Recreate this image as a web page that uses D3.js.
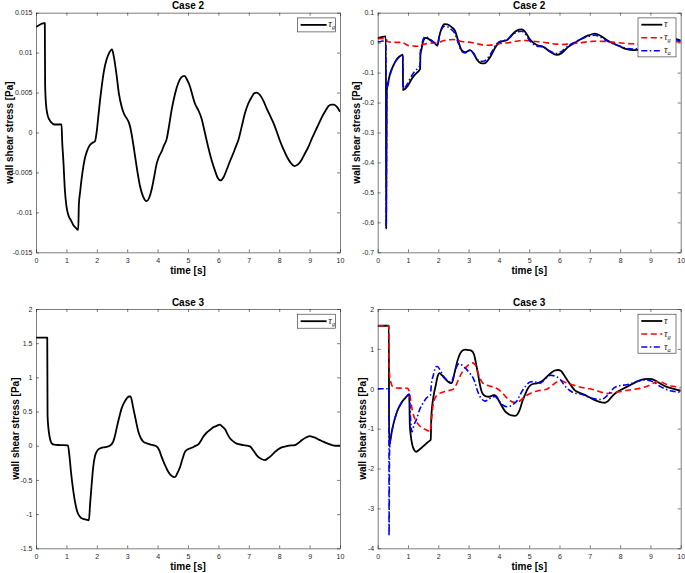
<!DOCTYPE html>
<html>
<head>
<meta charset="utf-8">
<script src="https://cdn.jsdelivr.net/npm/d3@7"></script>
<style>
  body { margin: 0; background: #fff; }
  svg { display: block; font-family: "Liberation Sans", Arial, Helvetica, sans-serif; }
  .tick text { font-size: 7px; fill: #262626; }
</style>
</head>
<body>
<div id="vis"></div>
<script>
// ---- data: [time (s), wall shear stress (Pa)] ----
const timeTicks = [0, 1, 2, 3, 4, 5, 6, 7, 8, 9, 10];
const case2Ticks = [-0.015, -0.01, -0.005, 0, 0.005, 0.01, 0.015];
const case2AllTicks = [-0.7, -0.6, -0.5, -0.4, -0.3, -0.2, -0.1, 0, 0.1];
const case3Ticks = [-1.5, -1, -0.5, 0, 0.5, 1, 1.5, 2];
const case3AllTicks = [-4, -3, -2, -1, 0, 1, 2];

const case2TauG = [
  [0,0.0132],[0.27,0.0137],[0.29,0.0137],[0.3,0.006],[0.33,0.0035],[0.38,0.0022],[0.44,0.0016],
  [0.52,0.0012],[0.6,0.001],[0.84,0.001],[0.86,-0.001],[0.9,-0.0035],[0.95,-0.0072],[1.0,-0.0092],
  [1.06,-0.0103],[1.15,-0.011],[1.23,-0.0116],[1.3,-0.0119],[1.39,-0.0122],[1.41,-0.009],[1.45,-0.0075],
  [1.5,-0.0058],[1.56,-0.0042],[1.61,-0.0032],[1.68,-0.0023],[1.75,-0.0017],[1.85,-0.0013],[1.94,-0.0011],
  [2.0,0.0002],[2.05,0.002],[2.1,0.0038],[2.17,0.006],[2.24,0.0078],[2.32,0.0091],[2.4,0.0099],
  [2.5,0.0104],[2.56,0.0095],[2.65,0.0072],[2.73,0.0048],[2.82,0.0032],[2.9,0.0023],[2.98,0.0018],
  [3.05,0.0013],[3.11,0.0005],[3.18,-0.001],[3.26,-0.003],[3.34,-0.005],[3.42,-0.0067],[3.52,-0.008],
  [3.64,-0.0086],[3.72,-0.0082],[3.8,-0.0072],[3.88,-0.0057],[3.97,-0.0039],[4.05,-0.003],[4.13,-0.0024],
  [4.2,-0.0017],[4.3,-0.0008],[4.38,0.0009],[4.46,0.0028],[4.57,0.0048],[4.68,0.0062],[4.78,0.0069],
  [4.88,0.0071],[4.97,0.0066],[5.07,0.0057],[5.15,0.0046],[5.23,0.0036],[5.34,0.0028],[5.45,0.0017],
  [5.56,-0.0001],[5.67,-0.0019],[5.78,-0.0035],[5.89,-0.0048],[5.98,-0.0057],[6.07,-0.006],[6.17,-0.0056],
  [6.27,-0.0047],[6.38,-0.0036],[6.49,-0.0026],[6.58,-0.0017],[6.66,-0.0009],[6.77,0.0008],[6.88,0.0025],
  [6.98,0.0036],[7.09,0.0044],[7.18,0.0049],[7.26,0.005],[7.34,0.0048],[7.42,0.0044],[7.5,0.0038],
  [7.59,0.003],[7.7,0.0021],[7.81,0.0012],[7.92,0.0001],[8.03,-0.0011],[8.14,-0.0021],[8.25,-0.003],
  [8.38,-0.0038],[8.5,-0.0042],[8.62,-0.004],[8.74,-0.0034],[8.85,-0.0026],[8.96,-0.0018],[9.07,-0.0008],
  [9.18,0.0001],[9.29,0.001],[9.4,0.0019],[9.52,0.0027],[9.62,0.0033],[9.72,0.0035],[9.8,0.0035],
  [9.9,0.0032],[10,0.0026]
];

const case2Tau = [
  [0,0.016],[0.1,0.018],[0.27,0.021],[0.28,-0.62],[0.3,-0.158],[0.35,-0.13],[0.42,-0.1],[0.5,-0.08],
  [0.6,-0.06],[0.7,-0.048],[0.83,-0.04],[0.835,-0.158],[0.9,-0.155],[1.0,-0.143],[1.1,-0.125],[1.2,-0.11],
  [1.3,-0.1],[1.4,-0.088],[1.41,-0.04],[1.45,-0.02],[1.5,0.005],[1.58,0.016],[1.7,0.011],[1.8,0.004],
  [1.9,-0.004],[1.97,-0.01],[2.03,0.02],[2.11,0.048],[2.2,0.062],[2.3,0.061],[2.44,0.052],[2.55,0.04],
  [2.66,0.005],[2.77,-0.025],[2.88,-0.032],[3.05,-0.025],[3.16,-0.036],[3.27,-0.056],[3.4,-0.068],
  [3.52,-0.069],[3.7,-0.05],[3.93,-0.008],[4.09,0.004],[4.26,0.008],[4.42,0.025],[4.59,0.04],[4.75,0.044],
  [4.86,0.037],[5.03,0.01],[5.25,-0.008],[5.47,-0.014],[5.69,-0.03],[5.91,-0.041],[6.07,-0.035],
  [6.29,-0.014],[6.51,0],[6.73,0.013],[6.95,0.024],[7.17,0.03],[7.34,0.024],[7.56,0.009],[7.78,-0.003],
  [8.0,-0.013],[8.22,-0.022],[8.44,-0.025],[8.7,-0.022],[9.0,-0.012],[9.3,-0.002],[9.6,0.008],
  [9.85,0.012],[10,0.007]
];

const case2TauA = [
  [0,0.003],[0.1,0.004],[0.27,0.007],[0.28,-0.62],[0.3,-0.165],[0.35,-0.135],[0.42,-0.103],[0.5,-0.082],
  [0.6,-0.061],[0.7,-0.049],[0.83,-0.041],[0.835,-0.158],[0.9,-0.15],[1.0,-0.134],[1.1,-0.114],[1.2,-0.099],
  [1.3,-0.088],[1.4,-0.076],[1.41,-0.03],[1.45,-0.012],[1.5,0.011],[1.58,0.02],[1.7,0.013],[1.8,0.006],
  [1.9,-0.003],[1.97,-0.009],[2.03,0.019],[2.11,0.045],[2.2,0.055],[2.3,0.053],[2.44,0.043],[2.55,0.03],
  [2.66,-0.002],[2.77,-0.029],[2.88,-0.034],[3.05,-0.026],[3.16,-0.035],[3.27,-0.053],[3.4,-0.062],
  [3.52,-0.061],[3.7,-0.042],[3.93,-0.004],[4.09,0.006],[4.26,0.009],[4.42,0.023],[4.59,0.035],[4.75,0.038],
  [4.86,0.03],[5.03,0.005],[5.25,-0.011],[5.47,-0.015],[5.69,-0.029],[5.91,-0.036],[6.07,-0.029],
  [6.29,-0.01],[6.51,0.002],[6.73,0.013],[6.95,0.021],[7.17,0.025],[7.34,0.019],[7.56,0.006],[7.78,-0.004],
  [8.0,-0.012],[8.22,-0.019],[8.44,-0.021],[8.7,-0.018],[9.0,-0.009],[9.3,-0.002],[9.6,0.005],
  [9.85,0.009],[10,0.004]
];

const case3TauG = [
  [0,1.58],[0.37,1.58],[0.38,0.45],[0.41,0.25],[0.44,0.15],[0.48,0.07],[0.52,0.035],[0.6,0.015],[0.8,0.01],
  [1.05,0.005],[1.1,-0.15],[1.15,-0.38],[1.23,-0.67],[1.3,-0.86],[1.37,-0.98],[1.45,-1.04],[1.55,-1.07],
  [1.65,-1.08],[1.74,-1.09],[1.78,-0.85],[1.83,-0.57],[1.88,-0.32],[1.94,-0.15],[2.02,-0.07],[2.1,-0.04],
  [2.27,-0.02],[2.43,0.0],[2.54,0.06],[2.6,0.15],[2.65,0.25],[2.74,0.42],[2.82,0.55],[2.9,0.63],[2.98,0.69],
  [3.06,0.72],[3.11,0.72],[3.2,0.55],[3.28,0.38],[3.37,0.2],[3.45,0.11],[3.53,0.06],[3.65,0.035],
  [3.75,0.02],[3.88,0.005],[3.97,-0.01],[4.05,-0.06],[4.13,-0.16],[4.24,-0.28],[4.35,-0.38],[4.46,-0.44],
  [4.57,-0.46],[4.65,-0.4],[4.74,-0.31],[4.82,-0.19],[4.9,-0.09],[5.0,-0.05],[5.12,-0.03],[5.23,-0.005],
  [5.34,0.02],[5.42,0.07],[5.5,0.13],[5.61,0.19],[5.72,0.23],[5.83,0.27],[5.94,0.29],[6.05,0.31],
  [6.13,0.28],[6.22,0.24],[6.3,0.17],[6.38,0.11],[6.5,0.06],[6.6,0.03],[6.82,0.01],[6.95,0.0],[7.04,-0.01],
  [7.15,-0.07],[7.26,-0.14],[7.4,-0.19],[7.53,-0.21],[7.64,-0.18],[7.75,-0.14],[7.86,-0.09],[7.97,-0.05],
  [8.1,-0.02],[8.25,-0.005],[8.4,0.005],[8.52,0.01],[8.63,0.04],[8.74,0.08],[8.88,0.12],[9.01,0.14],
  [9.1,0.13],[9.18,0.12],[9.3,0.09],[9.45,0.06],[9.6,0.03],[9.73,0.01],[9.85,0.0],[10,0.0]
];

const case3Tau = [
  [0,1.58],[0.37,1.58],[0.375,-1.45],[0.41,-1.33],[0.46,-1.1],[0.52,-0.88],[0.57,-0.74],[0.65,-0.55],
  [0.74,-0.41],[0.82,-0.31],[0.9,-0.24],[0.97,-0.18],[1.04,-0.14],[1.06,-0.9],[1.09,-1.16],[1.14,-1.4],
  [1.2,-1.53],[1.27,-1.58],[1.35,-1.54],[1.45,-1.48],[1.55,-1.41],[1.65,-1.34],[1.75,-1.28],[1.77,-0.7],
  [1.84,-0.2],[1.92,0.1],[1.98,0.32],[2.04,0.39],[2.12,0.34],[2.2,0.27],[2.3,0.19],[2.4,0.14],[2.45,0.15],
  [2.55,0.45],[2.64,0.72],[2.72,0.88],[2.8,0.96],[2.9,0.98],[3.0,0.97],[3.1,0.95],[3.18,0.86],[3.24,0.65],
  [3.3,0.42],[3.38,0.08],[3.46,-0.12],[3.57,-0.19],[3.67,-0.2],[3.78,-0.17],[3.85,-0.16],[3.93,-0.2],
  [4.0,-0.3],[4.1,-0.44],[4.2,-0.56],[4.31,-0.63],[4.42,-0.67],[4.53,-0.68],[4.62,-0.63],[4.7,-0.5],
  [4.78,-0.3],[4.86,-0.15],[4.95,0.0],[5.03,0.08],[5.12,0.12],[5.2,0.13],[5.3,0.15],[5.4,0.18],[5.5,0.24],
  [5.62,0.33],[5.74,0.41],[5.86,0.46],[5.96,0.47],[6.04,0.45],[6.12,0.38],[6.2,0.28],[6.29,0.18],
  [6.4,0.06],[6.51,-0.04],[6.62,-0.09],[6.73,-0.12],[6.85,-0.16],[6.95,-0.2],[7.1,-0.26],[7.25,-0.31],
  [7.38,-0.34],[7.5,-0.35],[7.6,-0.31],[7.7,-0.22],[7.8,-0.14],[7.9,-0.08],[8.05,-0.02],[8.2,0.04],
  [8.35,0.1],[8.5,0.16],[8.65,0.21],[8.8,0.24],[8.95,0.25],[9.05,0.24],[9.2,0.19],[9.35,0.12],[9.5,0.06],
  [9.65,0.02],[9.8,-0.01],[10,-0.06]
];

const case3TauGAll = [
  [0,1.58],[0.37,1.58],[0.375,0.6],[0.4,0.3],[0.45,0.12],[0.5,0.05],[0.6,0.02],[0.99,0.01],[1.05,-0.1],
  [1.1,-0.35],[1.15,-0.57],[1.23,-0.76],[1.32,-0.87],[1.4,-0.94],[1.49,-0.99],[1.6,-1.03],[1.69,-1.06],
  [1.74,-1.07],[1.78,-0.75],[1.82,-0.45],[1.9,-0.22],[2.0,-0.14],[2.09,-0.1],[2.25,-0.06],[2.48,-0.02],
  [2.56,0.05],[2.65,0.2],[2.72,0.32],[2.8,0.43],[2.9,0.53],[3.0,0.6],[3.13,0.65],[3.22,0.6],[3.3,0.42],
  [3.38,0.25],[3.46,0.15],[3.55,0.1],[3.65,0.08],[3.74,0.06],[3.85,0.04],[3.95,0.0],[4.04,-0.05],
  [4.15,-0.13],[4.25,-0.22],[4.37,-0.3],[4.5,-0.34],[4.6,-0.33],[4.7,-0.3],[4.82,-0.22],[4.95,-0.15],
  [5.05,-0.11],[5.15,-0.08],[5.3,-0.05],[5.45,-0.03],[5.58,-0.01],[5.7,0.05],[5.82,0.12],[5.94,0.18],
  [6.05,0.2],[6.2,0.16],[6.35,0.12],[6.5,0.08],[6.7,0.04],[6.85,0.02],[7.0,0.0],[7.2,-0.04],[7.4,-0.09],
  [7.61,-0.12],[7.75,-0.1],[7.9,-0.08],[8.1,-0.06],[8.3,-0.03],[8.5,-0.01],[8.66,0.01],[8.8,0.04],
  [8.95,0.08],[9.1,0.14],[9.21,0.18],[9.35,0.17],[9.5,0.12],[9.7,0.07],[9.85,0.05],[10,0.03]
];

const case3TauA = [
  [0,0],[0.37,0],[0.375,-3.68],[0.39,-1.6],[0.41,-1.33],[0.46,-1.1],[0.52,-0.88],[0.57,-0.74],[0.65,-0.55],
  [0.74,-0.41],[0.82,-0.31],[0.9,-0.24],[0.97,-0.18],[1.04,-0.14],[1.08,-0.7],[1.13,-1.08],[1.2,-0.9],
  [1.29,-0.75],[1.37,-0.55],[1.45,-0.42],[1.53,-0.32],[1.6,-0.24],[1.7,-0.18],[1.74,-0.16],[1.77,0.1],
  [1.84,0.35],[1.92,0.55],[1.97,0.56],[2.06,0.47],[2.14,0.36],[2.22,0.27],[2.32,0.2],[2.42,0.17],[2.5,0.3],
  [2.58,0.5],[2.66,0.62],[2.72,0.63],[2.83,0.55],[2.92,0.5],[3.0,0.42],[3.13,0.3],[3.2,0.18],[3.27,0.0],
  [3.35,-0.16],[3.45,-0.27],[3.54,-0.31],[3.63,-0.28],[3.71,-0.24],[3.8,-0.2],[3.88,-0.2],[3.98,-0.28],
  [4.07,-0.37],[4.15,-0.42],[4.26,-0.45],[4.38,-0.43],[4.5,-0.37],[4.6,-0.3],[4.7,-0.15],[4.8,-0.02],
  [4.9,0.08],[5.03,0.17],[5.14,0.18],[5.25,0.16],[5.36,0.14],[5.47,0.2],[5.58,0.28],[5.7,0.34],[5.8,0.33],
  [5.9,0.3],[6.02,0.24],[6.13,0.12],[6.24,0.02],[6.35,-0.05],[6.46,-0.1],[6.58,-0.12],[6.7,-0.13],
  [6.85,-0.17],[7.0,-0.22],[7.15,-0.25],[7.3,-0.27],[7.4,-0.27],[7.5,-0.22],[7.6,-0.15],[7.7,-0.06],
  [7.8,0.02],[7.9,0.06],[8.0,0.08],[8.22,0.1],[8.4,0.14],[8.55,0.18],[8.7,0.21],[8.85,0.22],[9.0,0.2],
  [9.15,0.15],[9.32,0.06],[9.5,-0.01],[9.65,-0.05],[9.8,-0.07],[10,-0.09]
];

// ---- styles for the three quantities ----
const TAU = { name: "", color: "#000", width: 1.8, dash: null };
const TAU_G = { name: "g", color: "#ff0000", width: 1.6, dash: "6,3.5" };
const TAU_A = { name: "a", color: "#0000ff", width: 1.6, dash: "6,2.5,1.5,2.5" };

const W = 685, H = 573;
const svg = d3.select("#vis").append("svg").attr("width", W).attr("height", H);

const panels = [
  { id: "p1", title: "Case 2", box: [36, 340, 12.7, 252.3], yDomain: [-0.015, 0.015], yTicks: case2Ticks,
    yLabelOff: 23.5, legendLine: 26,
    series: [{ data: case2TauG, style: TAU, legendStyle: { ...TAU, name: "g" } }] },
  { id: "p2", title: "Case 2", box: [377.7, 680.7, 12.7, 252.3], yDomain: [-0.7, 0.1], yTicks: case2AllTicks,
    yLabelOff: 17.7, legendLine: 21,
    series: [{ data: case2Tau, style: TAU }, { data: case2TauG, style: TAU_G }, { data: case2TauA, style: TAU_A }] },
  { id: "p3", title: "Case 3", box: [36, 340, 309, 548.3], yDomain: [-1.5, 2], yTicks: case3Ticks,
    yLabelOff: 17, legendLine: 26,
    series: [{ data: case3TauG, style: TAU, legendStyle: { ...TAU, name: "g" } }] },
  { id: "p4", title: "Case 3", box: [377.7, 680.7, 309, 548.3], yDomain: [-4, 2], yTicks: case3AllTicks,
    yLabelOff: 11.7, legendLine: 21,
    series: [{ data: case3Tau, style: TAU }, { data: case3TauGAll, style: TAU_G }, { data: case3TauA, style: TAU_A }] }
];

const fmt = v => String(+v.toFixed(6));

panels.forEach(p => {
  const [l, r, t, b] = p.box;
  const x = d3.scaleLinear().domain([0, 10]).range([l, r]);
  const y = d3.scaleLinear().domain(p.yDomain).range([b, t]);
  const g = svg.append("g");

  g.append("clipPath").attr("id", "clip-" + p.id)
    .append("rect").attr("x", l).attr("y", t).attr("width", r - l).attr("height", b - t);

  // curves
  const line = d3.line().x(d => x(d[0])).y(d => y(d[1])).curve(d3.curveMonotoneX);
  p.series.forEach(s => {
    g.append("path")
      .datum(s.data)
      .attr("clip-path", "url(#clip-" + p.id + ")")
      .attr("fill", "none")
      .attr("stroke", s.style.color)
      .attr("stroke-width", s.style.width)
      .attr("stroke-dasharray", s.style.dash)
      .attr("stroke-linejoin", "round")
      .attr("d", line);
  });

  // axes, MATLAB style: ticks inside on all four sides
  const axStyle = sel => {
    sel.selectAll(".domain").attr("stroke", "#262626").attr("stroke-width", 0.6);
    sel.selectAll(".tick line").attr("stroke", "#262626").attr("stroke-width", 0.6);
  };
  g.append("g").attr("transform", `translate(0,${b})`)
    .call(d3.axisBottom(x).tickValues(timeTicks).tickFormat(fmt).tickSize(-3).tickSizeOuter(0).tickPadding(6))
    .call(axStyle);
  g.append("g").attr("transform", `translate(0,${t})`)
    .call(d3.axisTop(x).tickValues(timeTicks).tickFormat("").tickSize(-3).tickSizeOuter(0))
    .call(axStyle);
  g.append("g").attr("transform", `translate(${l},0)`)
    .call(d3.axisLeft(y).tickValues(p.yTicks).tickFormat(fmt).tickSize(-3).tickSizeOuter(0).tickPadding(3.5))
    .call(axStyle);
  g.append("g").attr("transform", `translate(${r},0)`)
    .call(d3.axisRight(y).tickValues(p.yTicks).tickFormat("").tickSize(-3).tickSizeOuter(0))
    .call(axStyle);
  g.selectAll(".tick text").attr("font-family", null).attr("font-size", null);

  // title and labels
  g.append("text").attr("x", (l + r) / 2).attr("y", t - 3.5).attr("text-anchor", "middle")
    .attr("font-size", 10).attr("font-weight", "bold").attr("fill", "#000").text(p.title);
  g.append("text").attr("x", (l + r) / 2).attr("y", b + 22).attr("text-anchor", "middle")
    .attr("font-size", 10).attr("font-weight", "bold").attr("fill", "#000").text("time [s]");
  g.append("text")
    .attr("transform", `translate(${l - p.yLabelOff},${(t + b) / 2}) rotate(-90)`)
    .attr("text-anchor", "middle")
    .attr("font-size", 10).attr("font-weight", "bold").attr("fill", "#000")
    .text("wall shear stress [Pa]");

  // legend
  const items = p.series.map(s => s.legendStyle || s.style);
  const bw = 38, bh = items.length === 1 ? 14 : 39;
  const bx = r - 42.7, by = t + 5.2;
  const lg = g.append("g");
  lg.append("rect").attr("x", bx).attr("y", by).attr("width", bw).attr("height", bh)
    .attr("fill", "#fff").attr("stroke", "#262626").attr("stroke-width", 0.6);
  items.forEach((it, i) => {
    const cy = items.length === 1 ? by + bh / 2 : by + 6.8 + i * 13;
    lg.append("line").attr("x1", bx + 3.3).attr("x2", bx + 3.3 + p.legendLine)
      .attr("y1", cy).attr("y2", cy)
      .attr("stroke", it.color).attr("stroke-width", it.width).attr("stroke-dasharray", it.dash);
    const tx = lg.append("text").attr("x", bx + 5 + p.legendLine).attr("y", cy + 2.5)
      .attr("font-family", "'Liberation Serif', 'DejaVu Serif', serif")
      .attr("font-style", "italic").attr("font-size", 10).attr("fill", "#262626");
    tx.append("tspan").text("τ");
    if (it.name) tx.append("tspan").attr("font-size", 6.5).attr("dy", 2).text(it.name);
  });
});
</script>
</body>
</html>
